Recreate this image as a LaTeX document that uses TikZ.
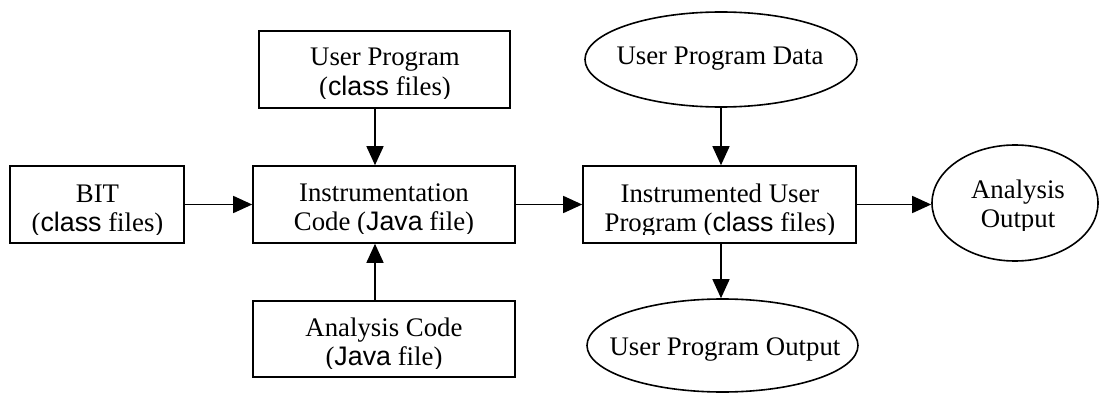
\documentclass[tikz,border=0pt]{standalone}
\usepackage{fontspec}
\setmainfont{Liberation Serif}
\newfontfamily\arialf{Liberation Sans}
\usetikzlibrary{arrows.meta,shapes.geometric}
% file-type words are set in a sans face
\newcommand\sansword[1]{{\arialf #1}}
% two centred lines, baseline at the first line
\newcommand\twoline[2]{\begin{tabular}[t]{@{}c@{}}#1\\#2\end{tabular}}

\begin{document}
\begin{tikzpicture}[x=1pt,y=-1pt,
  box/.style={draw, line width=1.6pt, rectangle, inner sep=0pt},
  oval/.style={draw, line width=1.6pt, ellipse, inner sep=0pt},
  txt/.style={anchor=base, inner sep=0pt, font=\fontsize{26.8}{29.8}\selectfont},
  arr/.style={line width=1.5pt, -{Triangle[length=19pt,width=17pt]}}]

\useasboundingbox (0,0) rectangle (1100,393);

% shapes
\node[box, minimum width=174pt, minimum height=77pt] (bit)   at (97,204.5) {};
\node[box, minimum width=251pt, minimum height=77pt] (uprog) at (384.5,69.5) {};
\node[box, minimum width=262pt, minimum height=77pt] (instr) at (384,204.5) {};
\node[box, minimum width=262pt, minimum height=76pt] (acode) at (384,339) {};
\node[box, minimum width=273pt, minimum height=77pt] (iup)   at (719.5,204.5) {};
\node[oval, minimum width=272pt, minimum height=95pt] (upd)  at (721,59.5) {};
\node[oval, minimum width=166pt, minimum height=116pt] (ao)  at (1015,203) {};
\node[oval, minimum width=271pt, minimum height=93pt] (upo)  at (722.5,345.5) {};

% labels (second lines are cut off at the bottom of the text area)
\begin{scope}
  \clip (10,160) rectangle (184,234.5);
  \node[txt] (bitt) at (97.5,202) {\twoline{BIT}{(\sansword{class} files)}};
\end{scope}
\begin{scope}
  \clip (259,25) rectangle (510,98.5);
  \node[txt] (uprogt) at (385,66) {\twoline{User Program}{(\sansword{class} files)}};
\end{scope}
\begin{scope}
  \clip (253,160) rectangle (515,233.5);
  \node[txt] (instrt) at (384,201) {\twoline{Instrumentation}{Code (\sansword{Java} file)}};
\end{scope}
\begin{scope}
  \clip (253,295) rectangle (515,368);
  \node[txt] (acodet) at (384,336) {\twoline{Analysis Code}{(\sansword{Java} file)}};
\end{scope}
\begin{scope}
  \clip (583,160) rectangle (856,234);
  \node[txt] (iupt) at (720,202) {\twoline{Instrumented User}{Program (\sansword{class} files)}};
\end{scope}
\begin{scope}
  \clip (935,150) rectangle (1100,230.5);
  \node[txt] (aot) at (1018,198) {\twoline{Analysis}{Output}};
\end{scope}
\node[txt] (updt) at (720,65) {User Program Data};
\node[txt] (upot) at (725,355.5) {User Program Output};

% connectors
\draw[arr] (bit.east) -- (instr.west);
\draw[arr] ([xshift=-9pt]instr.north |- uprog.south) -- ([xshift=-9pt]instr.north);
\draw[arr] ([xshift=-9pt]acode.north) -- ([xshift=-9pt]acode.north |- instr.south);
\draw[arr] (instr.east) -- (iup.west);
\draw[arr] (upd.south) -- (upd.south |- iup.north);
\draw[arr] (iup.east) -- (iup.east -| ao.west);
\draw[arr] (upd.south |- iup.south) -- (upd.south |- upo.north);
\end{tikzpicture}
\end{document}
